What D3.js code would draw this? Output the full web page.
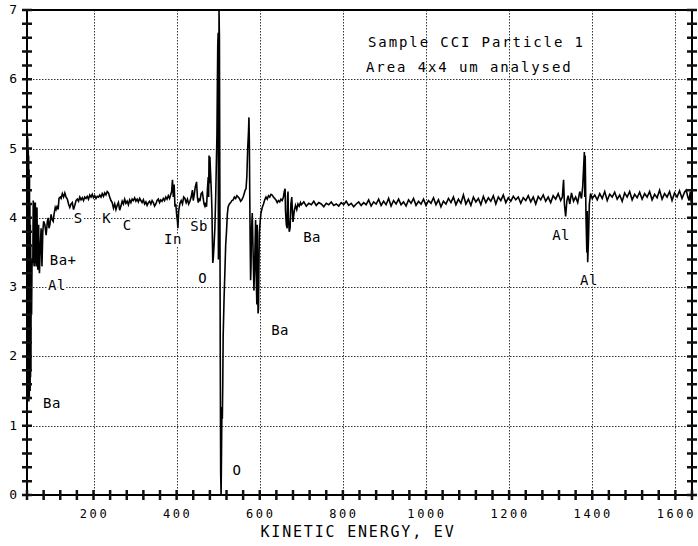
<!DOCTYPE html>
<html><head><meta charset="utf-8">
<script src="https://cdn.jsdelivr.net/npm/d3@7"></script>
<style>
html,body{margin:0;padding:0;background:#fff;}
svg{display:block;}
</style></head>
<body>
<svg id="chart" width="698" height="546"></svg>
<script>
// ---- data: kinetic energy (eV) / signal pairs ----
const lowEnergyRegion = [
[40,5.22],[40.5,1.6],[41,5.2],[41.5,1.45],[42,5.15],[42.5,1.5],[43,5.0],[43.5,1.4],[44,4.9],[44.5,1.35],[45,4.7],[45.5,1.4],[46,4.6],[46.5,1.55],[47,4.2],[47.5,1.5],[48,3.9],[48.5,1.7],[49,3.6],[49.5,1.8],[50,3.4],[51,2.6],[52,3.3],[53,3.4],[54,3.35],[55,4.25],[56,4.2],[57,3.3],[58,3.4],[59,4.2],[60,4.22],[61,3.4],[62,3.3],[63,4.1],[64,4.15],[65,3.5],[66,3.25],[67,3.8],[68,3.9],[69,3.3],[70,3.2],[72,3.6],[74,3.85],[76,3.3],[78,3.8],[80,3.95],[83,3.9],[86,3.75],[89,3.95],[91,4.0],[93,3.85],[95,3.9],[98,4.05],[100,3.98],[103,3.95],[105,4.05],[108,4.15],[110,4.12],[113,4.18],[115,4.12],[117,4.28],[120,4.3]
];
const midRegion = [
[122,4.28],[125,4.35],[128,4.3],[131,4.36],[134,4.3],[137,4.27],[140,4.2],[143,4.15],[146,4.2],[149,4.22],[152,4.12],[155,4.18],[158,4.25],[161,4.27],[164,4.24],[167,4.3],[170,4.26],[173,4.29],[176,4.25],[179,4.3],[182,4.28],[185,4.31],[188,4.27],[191,4.33],[194,4.3],[197,4.34],[200,4.29],[203,4.32],[206,4.28],[209,4.31],[212,4.3],[215,4.33],[218,4.3],[221,4.35],[224,4.31],[227,4.36],[230,4.33],[233,4.38],[236,4.36],[239,4.3],[242,4.25],[245,4.22],[248,4.14],[251,4.2],[254,4.12],[257,4.18],[260,4.22],[263,4.11],[266,4.17],[269,4.24],[272,4.2],[275,4.27],[278,4.21],[281,4.24],[284,4.19],[287,4.26],[290,4.22],[293,4.27],[296,4.25],[299,4.29],[302,4.24],[305,4.27],[308,4.23],[311,4.28],[314,4.25],[317,4.22],[320,4.26],[323,4.2],[326,4.23],[329,4.18],[332,4.22],[335,4.24],[338,4.2],[341,4.25],[344,4.22],[347,4.17],[350,4.2],[353,4.25],[356,4.27],[359,4.22],[362,4.26],[365,4.24],[368,4.28],[371,4.25],[374,4.3],[377,4.27],[380,4.32],[383,4.28],[386,4.34],[388,4.38],[390,4.55],[392,4.3],[394,4.48],[396,4.16],[398,4.2],[400,4.05],[402,3.95],[403,3.85],[405,4.1],[408,4.21],[411,4.25],[414,4.2],[417,4.3],[420,4.28],[423,4.22],[426,4.27],[429,4.2],[432,4.24],[435,4.3],[438,4.4],[440,4.25],[442,4.32],[445,4.45],[448,4.52],[450,4.3],[452,4.22],[454,4.28],[456,4.24],[459,4.35],[462,4.37],[464,4.28],[466,4.2],[468,4.17],[470,4.22],[472,4.16],[474,4.4],[476,4.59],[477,4.3],[478,4.9],[479,4.5],[480,4.88]
];
const oxygenBariumRegion = [
[482,4.6],[484,4.3],[485,4.1],[486,3.7],[487,3.35],[488,3.4],[490,3.6],[492,3.85],[494,4.3],[496,4.9],[497,5.2],[498,5.9],[499,6.5],[500,6.67],[500.5,3.4],[501,6.6],[501.5,3.6],[502,7.0],[503,6.6],[504,4.5],[505,2.0],[506,0.3],[507,0.0],[508,0.6],[509,1.27],[510,1.1],[511,1.6],[512,2.3],[514,2.8],[516,3.2],[518,3.6],[520,3.8],[522,4.05],[524,4.16],[527,4.2],[530,4.22],[533,4.25],[536,4.26],[539,4.3],[542,4.28],[545,4.32],[548,4.3],[551,4.28],[554,4.24],[557,4.26],[560,4.3],[563,4.36],[565,4.4],[567,4.42],[569,4.6],[571,5.0],[573,5.25],[574,5.45],[575,5.1],[576,4.3],[577,3.6],[578,3.1],[579,3.3],[580,3.8],[582,4.07],[584,3.5],[586,2.95],[588,3.4],[590,3.97],[591,3.3],[593,2.75],[594,3.9],[595,3.0],[596,2.62],[597,2.7],[598,3.3],[599,3.78],[601,3.95],[603,4.07],[606,4.15],[609,4.2],[612,4.26],[615,4.3],[618,4.27],[621,4.32],[624,4.3],[627,4.34],[630,4.33],[633,4.3],[636,4.28],[639,4.26],[642,4.22],[645,4.25],[648,4.23],[651,4.27],[654,4.25],[657,4.3],[659,4.38],[661,4.42],[662,4.1],[664,3.9],[666,3.85],[667,4.3],[668,4.38],[669,4.0],[671,3.8],[673,3.85],[675,4.2],[677,4.3],[679,4.05],[680,3.94],[683,4.1],[686,4.18],[689,4.12],[692,4.2],[695,4.17],[698,4.22]
];
const highEnergyRegion = [
[700,4.19],[706,4.23],[712,4.17],[718,4.21],[724,4.19],[730,4.24],[736,4.18],[742,4.22],[748,4.2],[754,4.16],[760,4.21],[766,4.19],[772,4.23],[778,4.18],[784,4.2],[790,4.17],[796,4.22],[802,4.19],[808,4.24],[814,4.18],[820,4.21],[826,4.16],[832,4.2],[838,4.23],[844,4.18],[850,4.22],[856,4.19],[862,4.26],[868,4.17],[874,4.23],[880,4.2],[886,4.27],[892,4.18],[898,4.24],[904,4.19],[910,4.28],[916,4.17],[922,4.25],[928,4.2],[934,4.27],[940,4.19],[946,4.23],[952,4.17],[958,4.26],[964,4.21],[970,4.28],[976,4.18],[982,4.24],[988,4.2],[994,4.27],[1000,4.18],[1006,4.25],[1012,4.21],[1018,4.29],[1024,4.19],[1030,4.26],[1036,4.16],[1042,4.24],[1048,4.2],[1054,4.28],[1060,4.22],[1066,4.3],[1072,4.19],[1078,4.27],[1084,4.21],[1090,4.33],[1096,4.2],[1102,4.27],[1108,4.18],[1114,4.3],[1120,4.23],[1126,4.28],[1132,4.19],[1138,4.31],[1144,4.22],[1150,4.29],[1156,4.24],[1162,4.32],[1168,4.2],[1174,4.3],[1180,4.25],[1186,4.33],[1192,4.22],[1198,4.29],[1204,4.24],[1210,4.31],[1216,4.26],[1222,4.3],[1228,4.21],[1234,4.29],[1240,4.25],[1246,4.32],[1252,4.23],[1258,4.3],[1264,4.2],[1270,4.31],[1276,4.26],[1282,4.33],[1288,4.24],[1294,4.3],[1300,4.22],[1306,4.32],[1312,4.27],[1318,4.35],[1324,4.25],[1328,4.3],[1331,4.55],[1333,4.2],[1336,4.02],[1339,4.25],[1342,4.32],[1346,4.2],[1350,4.36],[1355,4.24],[1360,4.3],[1365,4.22],[1370,4.38],[1374,4.28],[1377,4.45],[1379,4.7],[1381,4.95],[1382,4.3],[1383,4.9],[1385,4.0],[1387,3.5],[1388,4.1],[1389,3.36],[1391,3.7],[1393,4.2],[1396,4.35],[1400,4.28],[1406,4.33],[1412,4.26],[1418,4.35],[1424,4.28],[1430,4.38],[1436,4.25],[1442,4.34],[1448,4.3],[1454,4.37],[1460,4.27],[1466,4.33],[1472,4.24],[1478,4.36],[1484,4.3],[1490,4.38],[1496,4.26],[1502,4.34],[1508,4.29],[1514,4.37],[1520,4.27],[1526,4.35],[1532,4.3],[1538,4.38],[1544,4.26],[1550,4.34],[1556,4.29],[1562,4.4],[1568,4.27],[1574,4.35],[1580,4.3],[1586,4.38],[1592,4.25],[1598,4.36],[1604,4.3],[1610,4.39],[1616,4.28],[1622,4.37],[1626,4.4],[1630,4.3],[1633,4.25],[1636,4.38],[1638,4.22],[1640,4.33]
];
const xTickLabels = [200,400,600,800,1000,1200,1400,1600];
const yTickLabels = [0,1,2,3,4,5,6,7];
const peakLabels = ["Ba","Ba+","Al","S","K","C","In","Sb","O","O","Ba","Ba","Al","Al"];
const peakLabelEnergy = [100,127,112,163,232,281,391,454,463,545,649,726,1325,1392];
const peakLabelSignal = [1.26,3.32,2.96,3.93,3.93,3.82,3.62,3.81,3.06,0.29,2.31,3.65,3.68,3.03];
const noteLines = ["Sample CCI Particle 1","Area 4x4 um analysed"];
const xTitle = "KINETIC ENERGY, EV";

// ---- drawing ----
const spectrum = lowEnergyRegion.concat(midRegion, oxygenBariumRegion, highEnergyRegion);
const svg = d3.select("#chart");
const x = d3.scaleLinear().domain([40,1640]).range([27,692]);
const y = d3.scaleLinear().domain([0,7]).range([495,10]);
const mono = "'DejaVu Sans Mono', monospace";
const xMinor = d3.range(40,1641,40);
const yMinor = d3.range(0,36).map(i=>i/5);
const X0 = x(40), X1 = x(1640), Y0 = y(0), Y1 = y(7);

// grid (dotted)
let gridD = "";
xTickLabels.forEach(v => { const px = Math.round(x(v)) + 0.5; gridD += `M${px},${Y1}V${Y0}`; });
yTickLabels.filter(d => d > 0 && d < 7).forEach(v => { const py = Math.round(y(v)) + 0.5; gridD += `M${X0},${py}H${X1}`; });
svg.append("path").attr("d", gridD).attr("fill","none")
  .attr("stroke","#333").attr("stroke-width",1).attr("stroke-dasharray","1.5,1.5");

// notes
const notes = svg.append("g").attr("font-family",mono).attr("font-size",14).attr("letter-spacing","1.9px").attr("fill","#000");
notes.selectAll("text").data(noteLines).join("text")
  .attr("x",(d,i)=>i===0?368:366).attr("y",(d,i)=>47+i*25).text(d=>d);

// peak labels with white halo (cuts grid)
svg.append("g").selectAll("text").data(peakLabels).join("text")
  .attr("x",(d,i)=>x(peakLabelEnergy[i])).attr("y",(d,i)=>y(peakLabelSignal[i]))
  .attr("text-anchor","middle").attr("font-family",mono).attr("font-size",14)
  .attr("letter-spacing","0.5px")
  .attr("stroke","#fff").attr("stroke-width",4).attr("paint-order","stroke").attr("fill","#000")
  .text(d=>d);

// trace
const line = d3.line().x(d=>x(d[0])).y(d=>y(d[1]));
svg.append("path").datum(spectrum).attr("d",line)
  .attr("fill","none").attr("stroke","#000").attr("stroke-width",1.6).attr("stroke-linejoin","miter");

// frame
svg.append("path").attr("d",`M${X0},${Y1}H${X1}V${Y0}H${X0}Z`).attr("fill","none")
  .attr("stroke","#000").attr("stroke-width",2);

// crossing ticks
let tickD = "";
xMinor.forEach(v => { tickD += `M${x(v)},${Y0-5}V${Y0+5}`; });
yMinor.forEach(v => { tickD += `M${X0-5},${y(v)}H${X0+5}M${X1-5},${y(v)}H${X1+5}`; });
svg.append("path").attr("d", tickD).attr("fill","none").attr("stroke","#111").attr("stroke-width",2.5);

// tick labels
svg.append("g").selectAll("text").data(xTickLabels).join("text")
  .attr("x",d=>x(d)+1).attr("y",518).attr("text-anchor","middle")
  .attr("font-family",mono).attr("font-size",12).attr("letter-spacing","2.6px").attr("fill","#000")
  .text(d=>d);
svg.append("g").selectAll("text").data(yTickLabels).join("text")
  .attr("x",17).attr("y",d=>y(d)+4).attr("text-anchor","end")
  .attr("font-family",mono).attr("font-size",13).attr("fill","#000")
  .text(d=>d);

// axis title
svg.append("text").attr("x",358).attr("y",537).attr("text-anchor","middle")
  .attr("font-family",mono).attr("font-size",15).attr("letter-spacing","1.8px").attr("fill","#000")
  .text(xTitle);
</script>
</body></html>
